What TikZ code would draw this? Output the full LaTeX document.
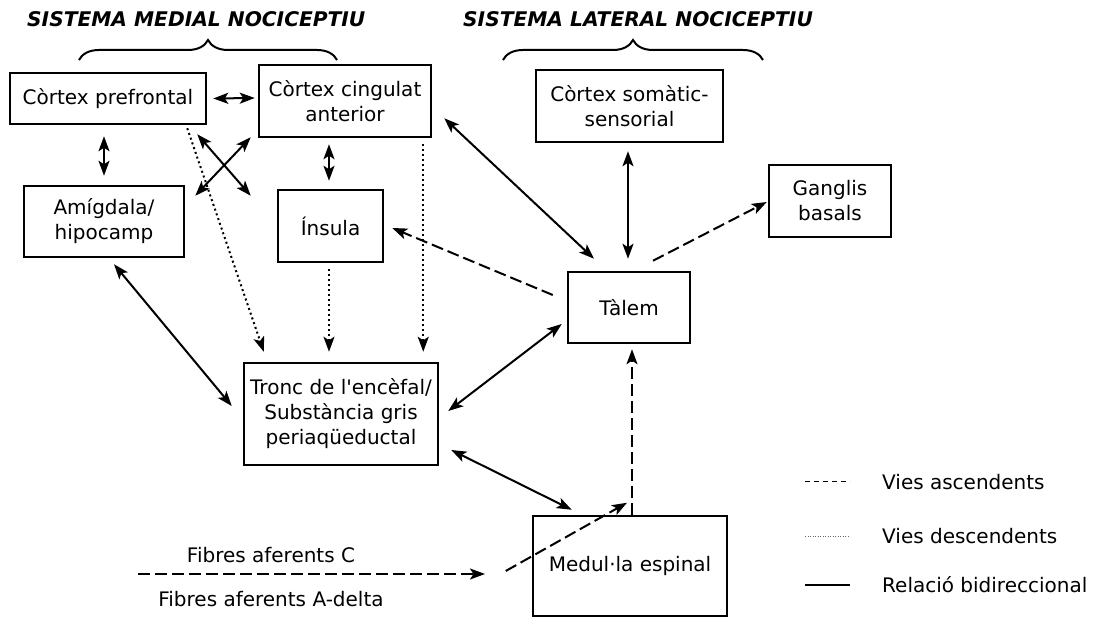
\documentclass[tikz,border=0pt]{standalone}
\usepackage{fontspec}
\setmainfont{DejaVu Sans}
\usetikzlibrary{arrows.meta,decorations.pathreplacing}

\tikzset{
  txt/.style={font=\fontsize{20}{25}\selectfont},
  box/.style={draw, line width=2.5pt, rectangle, inner sep=0pt, align=center, txt},
  lbl/.style={inner sep=0pt, txt},
  title/.style={inner sep=0pt, font=\fontsize{20.2}{24}\selectfont\bfseries\itshape},
  link/.style={line width=2pt},
  tipA/.tip={Stealth[length=15pt,width=11pt,inset=3.5pt]},
  bi/.style={link, tipA-tipA},
  asc/.style={link, dash pattern=on 12pt off 5pt, -tipA},
  desc/.style={link, dash pattern=on 2pt off 3pt, -tipA},
  brc/.style={line width=2pt, decorate, decoration={brace, amplitude=20pt}}
}

\begin{document}
\begin{tikzpicture}
\useasboundingbox (0,0) rectangle (1096pt,-617pt);
\begin{scope}[x=1pt,y=-1pt]
% titles and braces
\node[title, anchor=base west] (tmed) at (27,27) {SISTEMA MEDIAL NOCICEPTIU};
\node[title, anchor=base west] (tlat) at (463,27) {SISTEMA LATERAL NOCICEPTIU};
\draw[brc] (79,60) -- (337,60);
\draw[brc] (503,60) -- (763,60);

% structures
\node[box, minimum width=196pt, minimum height=51pt] (pref) at (108,98.5) {Còrtex prefrontal};
\node[box, minimum width=172pt, minimum height=72pt] (cing) at (345,101) {Còrtex cingulat\\anterior};
\node[box, minimum width=187pt, minimum height=72pt] (soma) at (629.5,106) {Còrtex somàtic-\\sensorial};
\node[box, minimum width=122pt, minimum height=72pt] (gang) at (830,201) {Ganglis\\basals};
\node[box, minimum width=160pt, minimum height=71pt] (amig) at (104,221.5) {Amígdala/\\hipocamp};
\node[box, minimum width=105pt, minimum height=72pt] (insu) at (330.5,226) {Ínsula};
\node[box, minimum width=122pt, minimum height=71pt] (tal) at (629,307.5) {Tàlem};
\node[box, minimum width=194pt, minimum height=102pt] (tronc) at (341,414) {Tronc de l\textquotesingle encèfal/\\Substància gris\\periaqüeductal};
\node[box, minimum width=194pt, minimum height=100pt] (med) at (630,566) {Medul·la espinal};

% bidirectional relations
\draw[bi] ([xshift=6pt]pref.east) -- ([shift={(-3,-3)}]cing.west);
\draw[bi] ([shift={(-4,11)}]pref.south) -- ([shift={(0,-9)}]amig.north);
\draw[bi] ([shift={(-7,-1)}]cing.south west) -- ([shift={(10,11)}]amig.north east);
\draw[bi] ([shift={(-10,9)}]pref.south east) -- ([shift={(-26,7)}]insu.north west);
\draw[bi] ([shift={(-16,6)}]cing.south) -- ([shift={(-1.5,-8)}]insu.north);
\draw[bi] ([shift={(12,-20)}]cing.south east) -- ([shift={(-35,-12)}]tal.north);
\draw[bi] ([shift={(-1.5,8)}]soma.south) -- ([shift={(-1,-12)}]tal.north);
\draw[bi] ([shift={(10,6)}]amig.south) -- ([shift={(-11,-8)}]tronc.west);
\draw[bi] ([shift={(-5,16.5)}]tal.west) -- ([shift={(9,-3)}]tronc.east);
\draw[bi] ([shift={(12,36)}]tronc.east) -- ([shift={(40,-5)}]med.north west);

% ascending pathways
\draw[asc] ([shift={(24,-10)}]tal.north) -- ([shift={(-1,1)}]gang.west);
\draw[asc] ([shift={(-14,-12.5)}]tal.west) -- ([shift={(8,2)}]insu.east);
\draw[asc] ([shift={(2,0)}]med.north) -- ([shift={(3,5)}]tal.south);
\draw[asc] ([shift={(-26,5)}]med.west) -- ([shift={(-3,-12)}]med.north);

% descending pathways
\draw[desc] ([shift={(-20,3)}]pref.south east) -- ([shift={(21,-10)}]tronc.north west);
\draw[desc] ([shift={(-1.5,6)}]insu.south) -- ([shift={(-12,-10)}]tronc.north);
\draw[desc] ([shift={(-9,6)}]cing.south east) -- ([shift={(-16,-10)}]tronc.north east);

% afferent fibres
\coordinate (fibA) at (138,574);
\coordinate (fibB) at (485,574);
\draw[asc] (fibA) -- (fibB);
\node[lbl] (fibC) at (271,555) {Fibres aferents C};
\node[lbl] (fibD) at (271,599) {Fibres aferents A-delta};

% legend
\coordinate (la1) at (805,482); \coordinate (la2) at (850,482);
\coordinate (ld1) at (805,536); \coordinate (ld2) at (850,536);
\coordinate (lb1) at (805,585); \coordinate (lb2) at (850,585);
\draw[line width=1pt, dash pattern=on 5pt off 4pt] (la1) -- (la2);
\draw[line width=0.8pt, black!60, dash pattern=on 1pt off 1.5pt] (ld1) -- (ld2);
\draw[line width=1.4pt] (lb1) -- (lb2);
\node[lbl, anchor=west] (lega) at (882,482) {Vies ascendents};
\node[lbl, anchor=west] (legd) at (882,536) {Vies descendents};
\node[lbl, anchor=west] (legb) at (882,585) {Relació bidireccional};
\end{scope}
\end{tikzpicture}
\end{document}
